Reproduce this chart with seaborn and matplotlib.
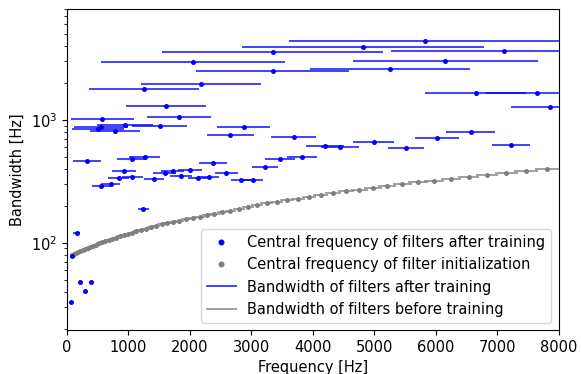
import numpy as np
import pandas as pd
import matplotlib
matplotlib.use("Agg")
import matplotlib.pyplot as plt
import seaborn as sns
from matplotlib.lines import Line2D

plt.rcParams["font.size"] = 10.5

# Filters after training: central frequency [Hz] and bandwidth [Hz]
trained_freq = [5831, 4818, 7115, 3350, 6156, 2059, 5257, 3350, 2189, 1252,
                7652, 6650, 1610, 7863, 1826, 579, 943, 1512, 553, 2875,
                504, 780, 6569, 2660, 3688, 6021, 4989, 7224, 4200, 4444,
                5517, 3826, 1268, 1057, 3468, 330, 2379, 3224, 2000, 927,
                1724, 2595, 1593, 1859, 1067, 2309, 2140, 846, 1420, 2834,
                3034, 715, 553, 1246, 163, 91, 216, 395, 298, 70]
trained_bw = [4429, 3936, 3671, 3602, 3009, 2987, 2604, 2495, 1954, 1789,
              1669, 1650, 1301, 1283, 1052, 1019, 911, 894, 882, 872,
              849, 813, 794, 755, 730, 707, 662, 628, 614, 608,
              586, 502, 497, 481, 477, 466, 445, 416, 389, 385,
              382, 371, 368, 348, 343, 343, 339, 337, 330, 326,
              324, 301, 290, 187, 120, 77.5, 47.6, 47.6, 40.6, 32.7]

# Filters at initialization (mel-spaced)
init_freq = [85.7, 118.0, 151.7, 186.8, 223.4, 261.4, 301.0, 342.3, 385.2, 429.9,
             476.5, 524.9, 575.4, 628.0, 682.7, 739.6, 799.0, 860.7, 925.0, 991.9,
             1061.6, 1134.2, 1209.8, 1288.5, 1370.4, 1455.7, 1544.5, 1637.0, 1733.3, 1833.5,
             1937.9, 2046.6, 2159.8, 2277.6, 2400.3, 2528.0, 2661.0, 2799.5, 2943.6, 3093.8,
             3250.1, 3412.8, 3582.3, 3758.7, 3942.4, 4133.6, 4332.8, 4540.1, 4756.0, 4980.8,
             5214.9, 5458.6, 5712.3, 5976.5, 6251.5, 6537.9, 6836.1, 7146.6, 7469.9, 7806.5]
init_bw = [79.4, 80.8, 82.3, 83.9, 85.5, 87.2, 88.9, 90.7, 92.6, 94.6,
           96.6, 98.8, 100.9, 103.1, 105.4, 107.7, 110.2, 112.8, 115.4, 118.2,
           121.1, 124.1, 127.2, 130.5, 133.8, 137.3, 141.0, 144.7, 148.1, 151.6,
           155.2, 159.1, 163.1, 167.8, 172.7, 177.8, 183.2, 189.3, 195.9, 202.8,
           209.8, 216.0, 222.5, 229.2, 235.5, 245.0, 254.0, 262.5, 270.5, 279.5,
           290.0, 301.0, 311.0, 320.5, 331.0, 345.0, 358.0, 370.0, 382.0, 396.0]

df_tr = pd.DataFrame({"freq": trained_freq, "bw": trained_bw})
df_in = pd.DataFrame({"freq": init_freq, "bw": init_bw})

fig = plt.figure(figsize=(5.81, 3.74), dpi=100)
ax = fig.add_axes([0.1148, 0.1176, 0.9616 - 0.1148, 0.9759 - 0.1176])

ax.hlines(df_in["bw"], df_in["freq"] - df_in["bw"] / 2,
          df_in["freq"] + df_in["bw"] / 2, color="gray", alpha=0.75,
          linewidth=1.4, zorder=2)
ax.hlines(df_tr["bw"], df_tr["freq"] - df_tr["bw"] / 2,
          df_tr["freq"] + df_tr["bw"] / 2, color="blue", alpha=0.8,
          linewidth=1.3, zorder=2)

sns.scatterplot(data=df_in, x="freq", y="bw", ax=ax, color="gray", s=13,
                linewidth=0, zorder=3)
sns.scatterplot(data=df_tr, x="freq", y="bw", ax=ax, color="blue", s=13,
                linewidth=0, zorder=4)

ax.set_yscale("log")
ax.set_xlim(0, 8000)
ax.set_ylim(19.5, 8000)
ax.set_xticks(range(0, 8001, 1000))
ax.set_xlabel("Frequency [Hz]")
ax.set_ylabel("Bandwidth [Hz]")

handles = [
    Line2D([], [], marker="o", color="blue", linestyle="none", markersize=3.3),
    Line2D([], [], marker="o", color="gray", linestyle="none", markersize=3.3),
    Line2D([], [], color="blue", alpha=0.8, linewidth=1.3),
    Line2D([], [], color="gray", alpha=0.75, linewidth=1.4),
]
labels = [
    "Central frequency of filters after training",
    "Central frequency of filter initialization",
    "Bandwidth of filters after training",
    "Bandwidth of filters before training",
]
ax.legend(handles, labels, loc="lower right")

fig.savefig("out.png", dpi=100)
